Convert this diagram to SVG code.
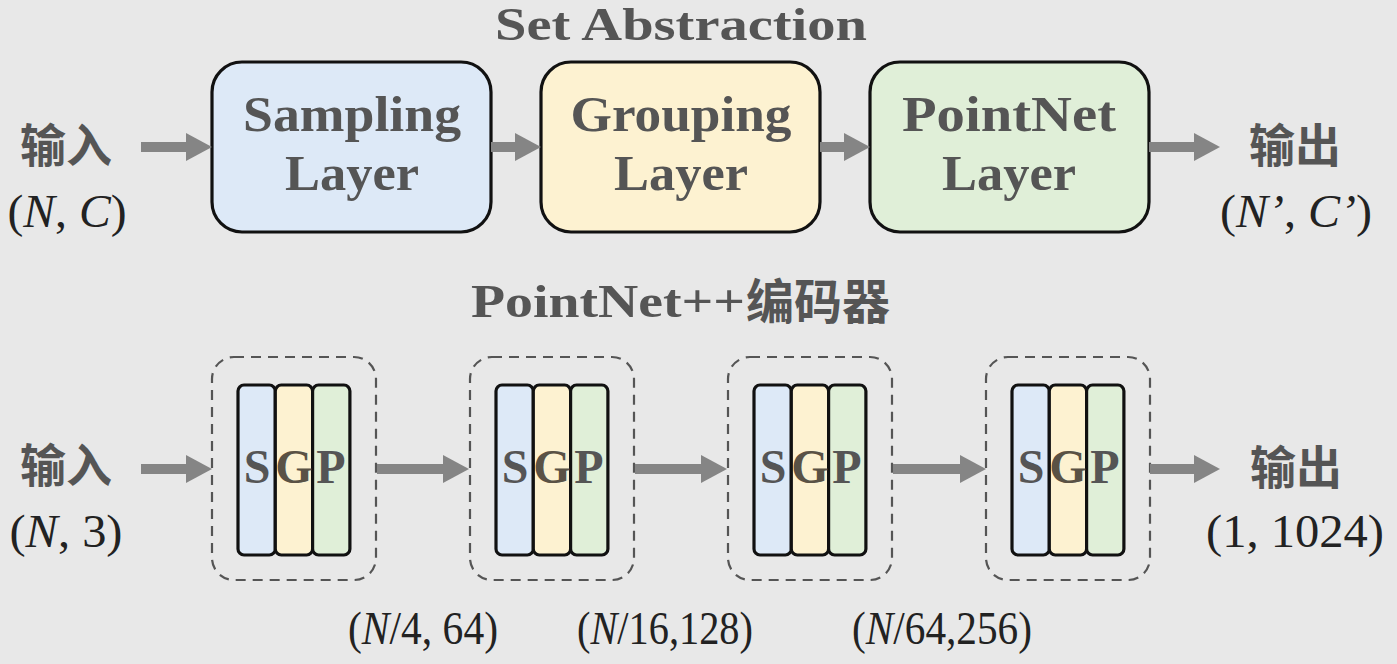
<svg xmlns="http://www.w3.org/2000/svg" width="1397" height="664" viewBox="0 0 1397 664">
<style>
.bg{fill:#e8e8e8}
.title{font-family:"Liberation Serif","Times New Roman",serif;font-weight:bold;fill:#555;font-size:46px}
.lbl{font-family:"Liberation Serif","Times New Roman",serif;font-weight:bold;fill:#555;font-size:50px;text-anchor:middle}
.cjk{font-family:"Noto Sans CJK SC","Noto Sans",sans-serif;font-weight:bold;fill:#555;font-size:46px;text-anchor:middle}
.num{font-family:"Liberation Serif","Times New Roman",serif;fill:#222;font-size:47px;text-anchor:middle}
.it{font-style:italic}
.box{stroke:#111;stroke-width:3.2}
.blue{fill:#dde9f7}
.yellow{fill:#fdf2d1}
.green{fill:#e0efd8}
.dash{fill:none;stroke:#555;stroke-width:2.2;stroke-dasharray:10 7}
.arrow{stroke:#858585;stroke-width:10;fill:none;marker-end:url(#ah)}
.sgp{font-family:"Liberation Serif","Times New Roman",serif;font-weight:bold;font-size:48px;text-anchor:middle}
</style>
<defs>
<marker id="ah" markerUnits="userSpaceOnUse" markerWidth="26" markerHeight="28" refX="0" refY="14" orient="auto" overflow="visible">
<path d="M0,0 L26,14 L0,28 z" fill="#858585"/>
</marker>
</defs>
<rect class="bg" x="0" y="0" width="1397" height="664"/>

<text class="title" x="495" y="40" textLength="372" lengthAdjust="spacingAndGlyphs">Set Abstraction</text>

<g id="input-top">
<text class="cjk" x="66" y="162">输入</text>
<text class="num" x="67" y="227" textLength="119" lengthAdjust="spacingAndGlyphs">(<tspan class="it">N</tspan>, <tspan class="it">C</tspan>)</text>
</g>
<g id="sampling">
<rect class="box blue" x="212" y="62" width="279" height="170" rx="30"/>
<text class="lbl" x="352" y="131" textLength="218" lengthAdjust="spacingAndGlyphs">Sampling</text>
<text class="lbl" x="352" y="190" textLength="134" lengthAdjust="spacingAndGlyphs">Layer</text>
</g>
<g id="grouping">
<rect class="box yellow" x="541" y="62" width="279" height="170" rx="30"/>
<text class="lbl" x="681" y="131" textLength="221" lengthAdjust="spacingAndGlyphs">Grouping</text>
<text class="lbl" x="681" y="190" textLength="134" lengthAdjust="spacingAndGlyphs">Layer</text>
</g>
<g id="pointnet">
<rect class="box green" x="870" y="62" width="279" height="170" rx="30"/>
<text class="lbl" x="1009" y="131" textLength="214" lengthAdjust="spacingAndGlyphs">PointNet</text>
<text class="lbl" x="1009" y="190" textLength="134" lengthAdjust="spacingAndGlyphs">Layer</text>
</g>
<g id="output-top">
<text class="cjk" x="1295" y="162">输出</text>
<text class="num" x="1296" y="227" textLength="152" lengthAdjust="spacingAndGlyphs">(<tspan class="it">N’</tspan>, <tspan class="it">C’</tspan>)</text>
</g>

<text class="title" x="471" y="317" textLength="274" lengthAdjust="spacingAndGlyphs">PointNet++</text>
<text class="cjk" x="818" y="319" style="font-size:48px">编码器</text>

<g id="input-bottom">
<text class="cjk" x="66" y="482">输入</text>
<text class="num" x="66" y="547" textLength="113" lengthAdjust="spacingAndGlyphs">(<tspan class="it">N</tspan>, 3)</text>
</g>

<g id="sa1">
<rect class="dash" x="212" y="357" width="164" height="223" rx="22"/>
<rect class="box blue" x="238" y="385" width="37.3" height="170" rx="6"/>
<rect class="box yellow" x="275.3" y="385" width="37.3" height="170" rx="6"/>
<rect class="box green" x="312.6" y="385" width="37.3" height="170" rx="6"/>
<text class="sgp" x="257" y="483" fill="#555">S</text>
<text class="sgp" x="294" y="483" fill="#5a5245">G</text>
<text class="sgp" x="331" y="483" fill="#555">P</text>
</g>
<g id="sa2">
<rect class="dash" x="470" y="357" width="164" height="223" rx="22"/>
<rect class="box blue" x="496" y="385" width="37.3" height="170" rx="6"/>
<rect class="box yellow" x="533.3" y="385" width="37.3" height="170" rx="6"/>
<rect class="box green" x="570.6" y="385" width="37.3" height="170" rx="6"/>
<text class="sgp" x="515" y="483" fill="#555">S</text>
<text class="sgp" x="552" y="483" fill="#5a5245">G</text>
<text class="sgp" x="589" y="483" fill="#555">P</text>
</g>
<g id="sa3">
<rect class="dash" x="728" y="357" width="164" height="223" rx="22"/>
<rect class="box blue" x="754" y="385" width="37.3" height="170" rx="6"/>
<rect class="box yellow" x="791.3" y="385" width="37.3" height="170" rx="6"/>
<rect class="box green" x="828.6" y="385" width="37.3" height="170" rx="6"/>
<text class="sgp" x="773" y="483" fill="#555">S</text>
<text class="sgp" x="810" y="483" fill="#5a5245">G</text>
<text class="sgp" x="847" y="483" fill="#555">P</text>
</g>
<g id="sa4">
<rect class="dash" x="986" y="357" width="164" height="223" rx="22"/>
<rect class="box blue" x="1012" y="385" width="37.3" height="170" rx="6"/>
<rect class="box yellow" x="1049.3" y="385" width="37.3" height="170" rx="6"/>
<rect class="box green" x="1086.6" y="385" width="37.3" height="170" rx="6"/>
<text class="sgp" x="1031" y="483" fill="#555">S</text>
<text class="sgp" x="1068" y="483" fill="#5a5245">G</text>
<text class="sgp" x="1105" y="483" fill="#555">P</text>
</g>

<g id="output-bottom">
<text class="cjk" x="1296" y="484">输出</text>
<text class="num" x="1295" y="547" textLength="178" lengthAdjust="spacingAndGlyphs">(1, 1024)</text>
</g>

<g id="dims">
<text class="num" x="423" y="644" textLength="150" lengthAdjust="spacingAndGlyphs">(<tspan class="it">N</tspan>/4, 64)</text>
<text class="num" x="665" y="644" textLength="176" lengthAdjust="spacingAndGlyphs">(<tspan class="it">N</tspan>/16,128)</text>
<text class="num" x="942" y="644" textLength="180" lengthAdjust="spacingAndGlyphs">(<tspan class="it">N</tspan>/64,256)</text>
</g>

<g id="connectors">
<path class="arrow" d="M141,147 H186"/>
<path class="arrow" d="M491,147 H515"/>
<path class="arrow" d="M820,147 H844"/>
<path class="arrow" d="M1149,147 H1194"/>
<path class="arrow" d="M141,469 H186"/>
<path class="arrow" d="M377,469 H443"/>
<path class="arrow" d="M635,469 H701"/>
<path class="arrow" d="M893,469 H960"/>
<path class="arrow" d="M1150,469 H1194"/>
</g>
</svg>
